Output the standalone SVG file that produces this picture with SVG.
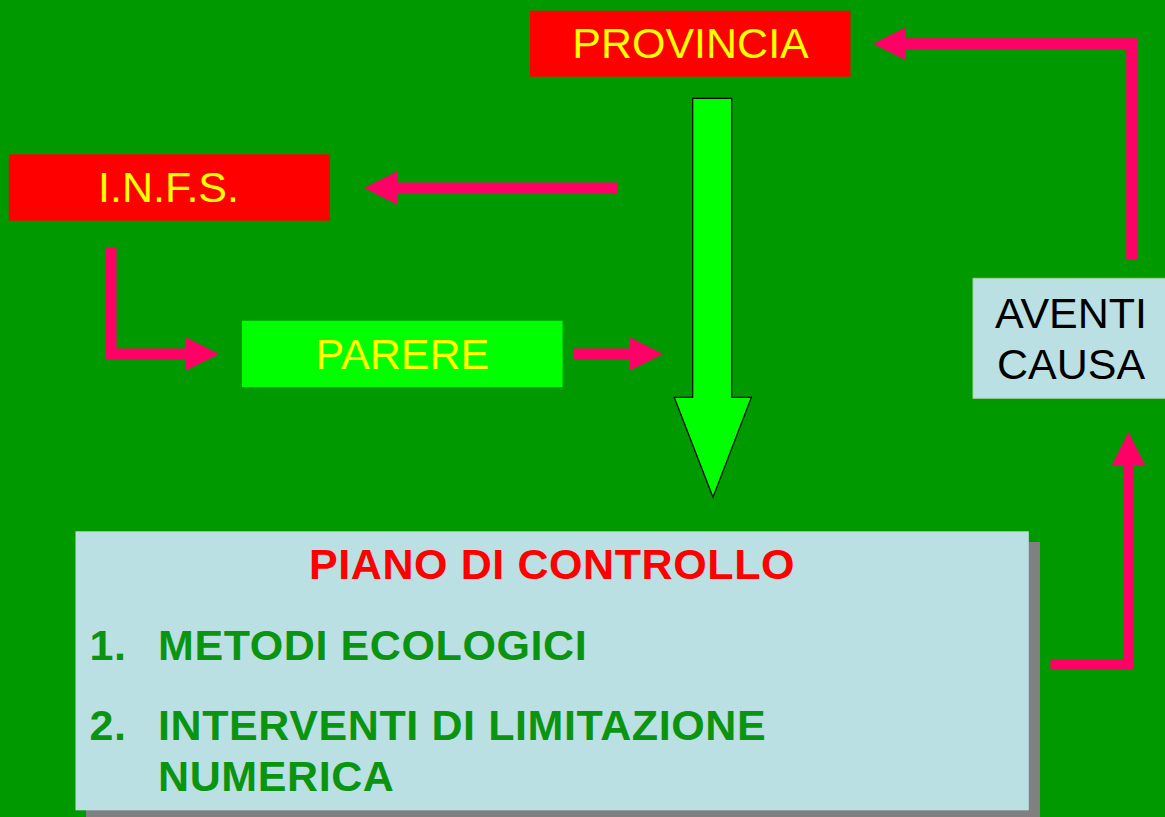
<svg xmlns="http://www.w3.org/2000/svg" width="1165" height="817" viewBox="0 0 1165 817">
<style>
.t{font-family:"Liberation Sans",Arial,sans-serif;font-size:43px}
.y{fill:#FFFF00}
.b{font-weight:bold;letter-spacing:0.6px}
.g{fill:#0A9410}
.c{fill:none;stroke:#FF0066;stroke-width:11;stroke-linejoin:miter;stroke-linecap:butt}
</style>
<defs>
<marker id="ah" viewBox="0 0 3 3" refX="0" refY="1.5" markerWidth="3" markerHeight="3" markerUnits="strokeWidth" orient="auto">
<path d="M0,0 L3,1.5 L0,3 z" fill="#FF0066"/>
</marker>
</defs>
<rect x="0" y="0" width="1165" height="817" fill="#009900"/>
<g id="connectors">
<path class="c" d="M618,188 H397" marker-end="url(#ah)"/>
<path class="c" d="M111,248 V354 H186" marker-end="url(#ah)"/>
<path class="c" d="M574,354 H630" marker-end="url(#ah)"/>
<path class="c" d="M1131.7,259 V43.8 H906" marker-end="url(#ah)"/>
<path class="c" d="M1050.5,664.6 H1128.5 V465" marker-end="url(#ah)"/>
<path d="M692.7,98.3 H731.7 V397.3 H751.4 L713,497.3 L674.2,397.3 H692.7 Z" fill="#00FF00" stroke="#000" stroke-width="1.2"/>
</g>
<g id="provincia">
<rect x="530" y="10.7" width="320.5" height="66" fill="#FF0000"/>
<text class="t y" x="690.5" y="58.3" text-anchor="middle">PROVINCIA</text>
</g>
<g id="infs">
<rect x="8.8" y="154.3" width="321.2" height="66.4" fill="#FF0000"/>
<text class="t y" x="168.5" y="202.3" text-anchor="middle">I.N.F.S.</text>
</g>
<g id="parere">
<rect x="242" y="320.7" width="320.6" height="66.3" fill="#00FF00"/>
<text class="t y" x="402.4" y="369" text-anchor="middle">PARERE</text>
</g>
<g id="aventi">
<rect x="973" y="278.3" width="195" height="120" fill="#BBE0E3" stroke="#9fcfa0" stroke-width="1"/>
<text class="t" x="1071" y="327.7" text-anchor="middle" fill="#000">AVENTI</text>
<text class="t" x="1071" y="379" text-anchor="middle" fill="#000">CAUSA</text>
</g>
<g id="piano">
<rect x="86" y="542" width="954" height="280" fill="#808080"/>
<rect x="75.5" y="531.3" width="953.3" height="279" fill="#BBE0E3"/>
<text class="t b" x="552" y="579" text-anchor="middle" fill="#FF0000">PIANO DI CONTROLLO</text>
<text class="t b g" x="89.5" y="660">1.</text>
<text class="t b g" x="158" y="660">METODI ECOLOGICI</text>
<text class="t b g" x="89.5" y="740">2.</text>
<text class="t b g" x="158" y="740">INTERVENTI DI LIMITAZIONE</text>
<text class="t b g" x="158" y="790.7">NUMERICA</text>
</g>
</svg>
